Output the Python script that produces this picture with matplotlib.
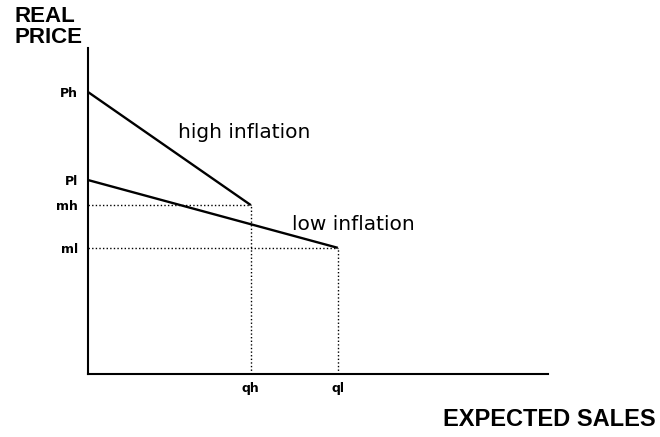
import matplotlib
matplotlib.use("Agg")
import matplotlib.pyplot as plt

# price levels (axis units 0-10)
price_names = ["Ph", "Pl", "mh", "ml"]
price_vals = [8.65, 5.95, 5.18, 3.87]
# sales levels
sales_names = ["qh", "ql"]
sales_vals = [3.54, 5.43]

# demand lines
high_line_x = [0.0, 3.54]
high_line_y = [8.65, 5.18]
low_line_x = [0.0, 5.43]
low_line_y = [5.95, 3.87]

fig = plt.figure(figsize=(6.6, 4.37), dpi=100)
ax = fig.add_axes([88 / 660, 63 / 437, 460 / 660, 326 / 437])
ax.set_xlim(0, 10)
ax.set_ylim(0, 10)

for side in ("top", "right"):
    ax.spines[side].set_visible(False)
for side in ("left", "bottom"):
    ax.spines[side].set_linewidth(1.5)

ax.plot(high_line_x, high_line_y, color="black", lw=1.7, solid_capstyle="butt")
ax.plot(low_line_x, low_line_y, color="black", lw=1.7, solid_capstyle="butt")

# dotted guides
dot = (0, (1, 1.6))
kw = dict(color="black", lw=1.0, ls=dot)
ax.plot([0, sales_vals[0]], [price_vals[2]] * 2, **kw)
ax.plot([0, sales_vals[1]], [price_vals[3]] * 2, **kw)
ax.plot([sales_vals[0]] * 2, [0, price_vals[2]], **kw)
ax.plot([sales_vals[1]] * 2, [0, price_vals[3]], **kw)

ax.set_yticks(price_vals)
ax.set_yticklabels(price_names, fontsize=9, fontweight="bold", family="DejaVu Sans")
ax.set_xticks(sales_vals)
ax.set_xticklabels(sales_names, fontsize=9, fontweight="bold", family="DejaVu Sans")
ax.tick_params(axis="y", length=0, pad=7)
ax.tick_params(axis="x", length=0, pad=6)

ax.text(1.96, 7.4, "high inflation", fontsize=14.5, va="center", ha="left", family="DejaVu Sans")
ax.text(4.43, 4.6, "low inflation", fontsize=14.5, va="center", ha="left", family="DejaVu Sans")

fig.text(15 / 660, 1 - 6 / 437, "REAL\nPRICE", fontsize=16, fontweight="bold",
         family="Liberation Sans", ha="left", va="top", linespacing=1.0)
fig.text(443 / 660, 18 / 437, "EXPECTED SALES", fontsize=17, fontweight="bold",
         family="Liberation Sans", ha="left", va="center")

fig.savefig("out.png", dpi=100, facecolor="white")
